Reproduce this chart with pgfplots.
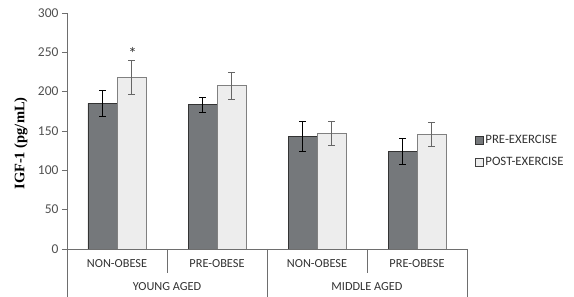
\documentclass[border=0pt]{standalone}
\usepackage{fontspec}
\setmainfont{Carlito}
\newfontfamily\serifbf{Liberation Serif}
\usepackage{pgfplots}
\pgfplotsset{compat=1.18}
\definecolor{darkbar}{RGB}{117,120,123}
\definecolor{lightbar}{RGB}{237,237,237}
\definecolor{axgray}{RGB}{110,110,110}
\definecolor{txtgray}{RGB}{80,80,80}
\definecolor{labgray}{RGB}{50,50,50}
\begin{document}
\begin{tikzpicture}[x=1pt,y=1pt]
\useasboundingbox (0,0) rectangle (574,297);
\begin{axis}[
 at={(67pt,48pt)}, anchor=south west,
 scale only axis, width=400pt, height=236pt,
 xmin=0, xmax=4, ymin=0, ymax=300,
 axis lines*=left,
 axis line style={axgray, line width=0.8pt},
 xtick=\empty,
 ytick={0,50,...,300},
 tick align=outside, major tick length=5pt,
 y tick style={axgray, line width=0.8pt},
 yticklabel style={font=\fontsize{13.5}{15}\selectfont, text=txtgray},
 /pgf/number format/assume math mode=true,
 ybar=0pt, bar width=29pt,
 clip=false,
 ylabel={\serifbf\bfseries IGF-1 (pg/mL)},
 ylabel style={at={(axis description cs:-0.115,0.447)}, anchor=center, font=\fontsize{14.5}{16}\selectfont},
 legend style={draw=none, fill=none, at={(1.0175,0.495)}, anchor=north west,
   font=\fontsize{12.8}{14}\selectfont, text=labgray, row sep=8.5pt, inner sep=1pt},
 legend cell align=left,
]
\addplot[fill=darkbar, draw=black!80, line width=0.9pt,
  error bars/.cd, y dir=both, y explicit,
  error bar style={black, line width=0.8pt},
  error mark options={rotate=90, mark size=3.2pt, black, line width=0.8pt},
  /pgfplots/legend image code/.code={\draw[fill=darkbar, draw=black!80, line width=0.6pt] (0pt,-3.8pt) rectangle (7.6pt,3.8pt);}]
 coordinates {(0.5,185) +- (0,16) (1.5,183.5) +- (0,9.5) (2.5,143) +- (0,19) (3.5,124) +- (0,16)};
\addlegendentry{PRE-EXERCISE}
\addplot[fill=lightbar, draw=black!50, line width=0.9pt,
  error bars/.cd, y dir=both, y explicit,
  error bar style={black!60, line width=0.8pt},
  error mark options={rotate=90, mark size=3.2pt, black!60, line width=0.8pt},
  /pgfplots/legend image code/.code={\draw[fill=lightbar, draw=black!75, line width=0.6pt] (0pt,-3.8pt) rectangle (7.6pt,3.8pt);}]
 coordinates {(0.5,218) +- (0,21.5) (1.5,207.5) +- (0,17) (2.5,147) +- (0,15) (3.5,146) +- (0,15)};
\addlegendentry{POST-EXERCISE}
\node[font=\fontsize{17}{18}\selectfont, text=labgray] at (axis cs:0.655,249) {*};
\draw[axgray, line width=0.8pt] (axis cs:0,0) -- (axis cs:0,-62);
\draw[axgray, line width=0.8pt] (axis cs:2,0) -- (axis cs:2,-62);
\draw[axgray, line width=0.8pt] (axis cs:4,0) -- (axis cs:4,-62);
\draw[axgray, line width=0.8pt] (axis cs:1,0) -- (axis cs:1,-30.5);
\draw[axgray, line width=0.8pt] (axis cs:3,0) -- (axis cs:3,-30.5);
\draw[axgray, line width=0.8pt] (axis cs:0,0) -- (axis cs:4,0);
\node[font=\fontsize{12.3}{14}\selectfont, text=labgray] at (axis cs:0.5,-19.1) {NON-OBESE};
\node[font=\fontsize{12.3}{14}\selectfont, text=labgray] at (axis cs:1.5,-19.1) {PRE-OBESE};
\node[font=\fontsize{12.3}{14}\selectfont, text=labgray] at (axis cs:2.5,-19.1) {NON-OBESE};
\node[font=\fontsize{12.3}{14}\selectfont, text=labgray] at (axis cs:3.5,-19.1) {PRE-OBESE};
\node[font=\fontsize{12.3}{14}\selectfont, text=labgray] at (axis cs:1,-48.3) {YOUNG AGED};
\node[font=\fontsize{12.3}{14}\selectfont, text=labgray] at (axis cs:3,-48.3) {MIDDLE AGED};
\end{axis}
\end{tikzpicture}
\end{document}
